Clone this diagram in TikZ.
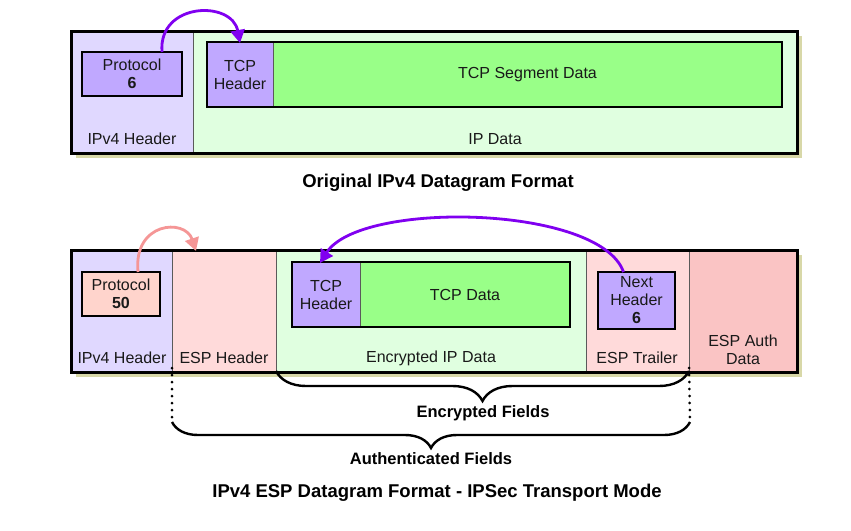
\documentclass[tikz,border=0pt]{standalone}
\usepackage{fontspec}
\setmainfont{Liberation Sans}
\usetikzlibrary{arrows.meta,decorations.pathreplacing}
\definecolor{lav}{RGB}{224,216,255}
\definecolor{lgreen}{RGB}{224,255,224}
\definecolor{dgreen}{RGB}{153,255,136}
\definecolor{purp}{RGB}{192,168,255}
\definecolor{lpink}{RGB}{255,218,218}
\definecolor{apink}{RGB}{250,196,196}
\definecolor{ppink}{RGB}{255,212,204}
\definecolor{shadowc}{RGB}{216,216,168}
\definecolor{parrow}{RGB}{128,0,240}
\definecolor{karrow}{RGB}{245,150,150}
\definecolor{divc}{RGB}{90,90,90}
\begin{document}
\begin{tikzpicture}[x=1pt,y=-1pt,
  fld/.style={anchor=north west, inner sep=0pt, outer sep=0pt, draw=none},
  frame/.style={anchor=north west, inner sep=0pt, outer sep=0pt, draw=black, line width=3pt},
  ibox/.style={anchor=north west, inner sep=0pt, outer sep=0pt, draw=black, line width=2.6pt},
  div/.style={draw=divc, line width=0.9pt},
  lbl/.style={inner sep=0pt, font=\fontsize{16}{18}\selectfont, text=black!90, align=center},
  ttl/.style={inner sep=0pt, font=\bfseries\fontsize{18.5}{21}\selectfont, text=black},
  btl/.style={inner sep=0pt, font=\bfseries\fontsize{16.5}{19}\selectfont, text=black},
  parr/.style={draw=parrow, line width=2.8pt, -{Triangle[length=13pt,width=14pt]}},
  karr/.style={draw=karrow, line width=2.8pt, -{Triangle[length=13pt,width=14pt]}},
  brc/.style={draw=black, line width=2.4pt, decorate},
  dotl/.style={draw=black, line width=3pt, line cap=round, dash pattern=on 0pt off 7pt}
]
\useasboundingbox (0,0) rectangle (851,530);
\fill[white] (0,0) rectangle (851,530);

% ---------------- top datagram ----------------
\node[fld, fill=shadowc, minimum width=726pt, minimum height=122pt] (sh1) at (76,36) {};
\node[fld, fill=lav, minimum width=122pt, minimum height=122pt] (ip1) at (71,31) {};
\node[fld, fill=lgreen, minimum width=604pt, minimum height=122pt] (ipd1) at (193,31) {};
\draw[div] (ip1.north east) -- (ip1.south east);
\node[frame, minimum width=726pt, minimum height=122pt] (fr1) at (71,31) {};

\node[fld, fill=purp, minimum width=66pt, minimum height=65pt] (tcph1) at (207,42) {};
\node[fld, fill=dgreen, minimum width=509pt, minimum height=65pt] (tcpd1) at (273,42) {};
\draw[div] (tcph1.north east) -- (tcph1.south east);
\node[ibox, minimum width=575pt, minimum height=65pt] (tcpf1) at (207,42) {};

\node[ibox, fill=purp, minimum width=100pt, minimum height=44pt] (pr1) at (82,52) {};
\node[lbl] (pr1t) at (pr1.center) {Protocol\\\textbf{6}};
\node[lbl] (tcph1t) at (tcph1.center) {TCP\\Header};
\node[lbl] (tcpd1t) at (tcpd1.center) {TCP Segment Data};
\node[lbl] (ip1t) at (132,139) {IPv4 Header};
\node[lbl] (ipd1t) at (495,139) {IP Data};

\draw[parr] ([xshift=30pt]pr1.north) .. controls (158,2) and (232,0) .. ([yshift=-1pt]tcph1.north);

\node[ttl] (title1) at (438,183) {Original IPv4 Datagram Format};

% ---------------- bottom datagram ----------------
\node[fld, fill=shadowc, minimum width=726pt, minimum height=122pt] (sh2) at (76,255) {};
\node[fld, fill=lav, minimum width=101pt, minimum height=122pt] (ip2) at (71,250) {};
\node[fld, fill=lpink, minimum width=104pt, minimum height=122pt] (esph) at (172,250) {};
\node[fld, fill=lgreen, minimum width=310pt, minimum height=122pt] (enc) at (276,250) {};
\node[fld, fill=lpink, minimum width=103pt, minimum height=122pt] (trl) at (586,250) {};
\node[fld, fill=apink, minimum width=108pt, minimum height=122pt] (auth) at (689,250) {};
\draw[div] (ip2.north east) -- (ip2.south east);
\draw[div] (esph.north east) -- (esph.south east);
\draw[div] (enc.north east) -- (enc.south east);
\draw[div] (trl.north east) -- (trl.south east);
\node[frame, minimum width=726pt, minimum height=122pt] (fr2) at (71,250) {};

\node[fld, fill=purp, minimum width=68pt, minimum height=65pt] (tcph2) at (292,262) {};
\node[fld, fill=dgreen, minimum width=210pt, minimum height=65pt] (tcpd2) at (360,262) {};
\draw[div] (tcph2.north east) -- (tcph2.south east);
\node[ibox, minimum width=278pt, minimum height=65pt] (tcpf2) at (292,262) {};

\node[ibox, fill=ppink, minimum width=78pt, minimum height=44pt] (pr2) at (82,272) {};
\node[ibox, fill=purp, minimum width=77pt, minimum height=57pt] (nh) at (598,272) {};

\node[lbl] (pr2t) at (pr2.center) {Protocol\\\textbf{50}};
\node[lbl] (tcph2t) at (tcph2.center) {TCP\\Header};
\node[lbl] (tcpd2t) at (tcpd2.center) {TCP Data};
\node[lbl] (nht) at (nh.center) {Next\\Header\\\textbf{6}};
\node[lbl] (ip2t) at (122,358) {IPv4 Header};
\node[lbl] (espht) at (224,358) {ESP Header};
\node[lbl] (enct) at (431,358) {Encrypted IP Data};
\node[lbl] (trlt) at (637,358) {ESP Trailer};
\node[lbl] (autht) at (743,350) {ESP Auth\\Data};

\draw[karr] ([xshift=17pt]pr2.north) .. controls (133,222) and (185,218) .. ([yshift=-1pt]esph.north -| 196,0);
\draw[parr] ([xshift=-13pt]nh.north) .. controls (600,205) and (360,200) .. ([xshift=-6pt,yshift=-1pt]tcph2.north);

% braces
\coordinate (dl) at (172,422);
\coordinate (dr) at (690,422);
\draw[dotl] ([yshift=4pt]esph.south west) -- (dl);
\draw[dotl] ([yshift=4pt]auth.south west) -- (dr);
\draw[brc, decoration={brace, amplitude=30pt}] ([yshift=1pt]trl.south east) -- ([yshift=1pt]enc.south west);
\draw[brc, decoration={brace, amplitude=26pt}] (dr) -- (dl);

\node[btl] (encf) at (483,413) {Encrypted Fields};
\node[btl] (authf) at (431,459) {Authenticated Fields};
\node[ttl] (title2) at (437,493) {IPv4 ESP Datagram Format - IPSec Transport Mode};
\end{tikzpicture}
\end{document}
